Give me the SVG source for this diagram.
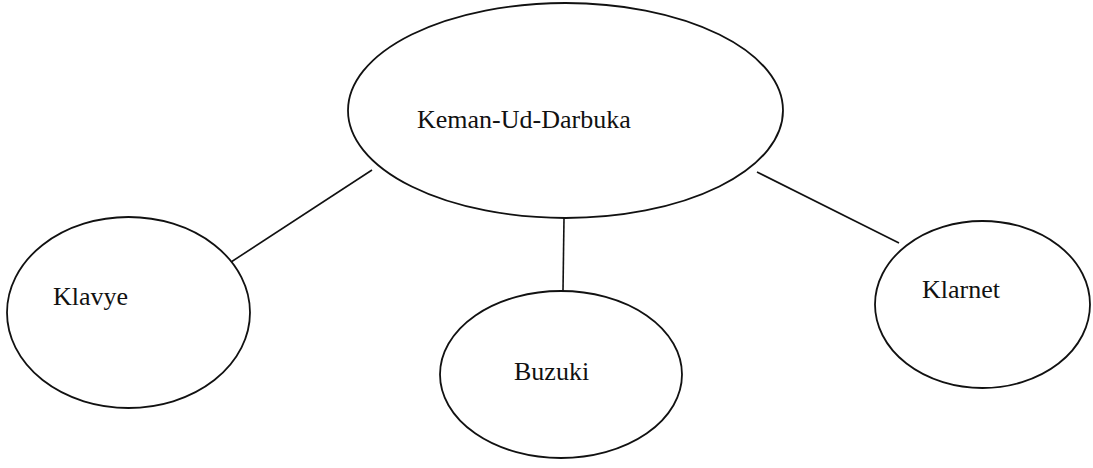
<svg xmlns="http://www.w3.org/2000/svg" width="1093" height="468" viewBox="0 0 1093 468">
  <style>
    .node { fill: #ffffff; stroke: #111111; stroke-width: 1.8; }
    .edge { stroke: #111111; stroke-width: 1.6; fill: none; }
    .label { font-family: "Liberation Serif", "Times New Roman", serif; font-size: 26px; fill: #111111; }
  </style>
  <rect width="1093" height="468" fill="#ffffff"/>
  <g id="connectors">
    <line class="edge" x1="372" y1="170" x2="228" y2="264"/>
    <line class="edge" x1="564" y1="218" x2="563" y2="291"/>
    <line class="edge" x1="757" y1="172" x2="899" y2="243"/>
  </g>
  <g id="keman-ud-darbuka">
    <ellipse class="node" cx="565.5" cy="110.5" rx="217.5" ry="107.5"/>
    <text class="label" x="417" y="128">Keman-Ud-Darbuka</text>
  </g>
  <g id="klavye">
    <ellipse class="node" cx="128.5" cy="312.5" rx="121.5" ry="95.5"/>
    <text class="label" x="53" y="305">Klavye</text>
  </g>
  <g id="buzuki">
    <ellipse class="node" cx="561" cy="374.5" rx="121" ry="83.5"/>
    <text class="label" x="514" y="380">Buzuki</text>
  </g>
  <g id="klarnet">
    <ellipse class="node" cx="982.5" cy="304.5" rx="107.5" ry="83.5"/>
    <text class="label" x="922" y="298">Klarnet</text>
  </g>
</svg>
